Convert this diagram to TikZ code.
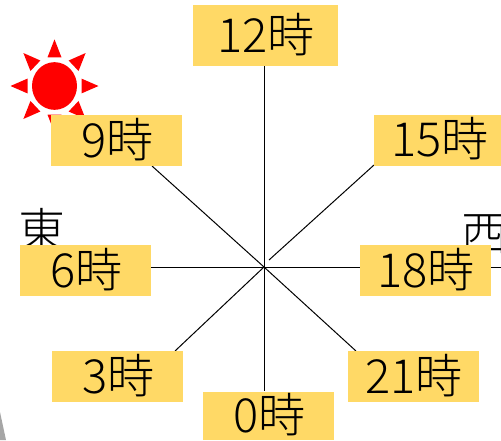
\documentclass[tikz,border=0pt]{standalone}
\usepackage{fontspec}
\setmainfont{Noto Sans CJK JP}[UprightFont=* Light,BoldFont=* Light]
\definecolor{boxc}{RGB}{255,217,102}
\newcommand{\hourtext}[1]{\hspace{1.5pt}\raisebox{6pt}{#1}}
\tikzset{
 hourbox/.style={fill=boxc,minimum width=131pt,minimum height=51pt,inner sep=0pt,font=\fontsize{47}{47}\selectfont,text=black},
 dirlabel/.style={inner sep=0pt,font=\fontsize{47}{47}\selectfont,text=black},
 ray/.style={fill=red,draw=none},
 spoke/.style={draw=black,line width=1pt}
}
\begin{document}
\begin{tikzpicture}[x=1pt,y=-1pt]
\useasboundingbox (0,0) rectangle (501,440);
\fill[gray!70] (0,412) -- (6,440) -- (0,440) -- cycle;
% sun
\begin{scope}[shift={(54.5,86)},yscale=1.06]
\fill[red] (0,0) circle (22.5);
\foreach \a in {0,45,...,315}{
 \begin{scope}[rotate=\a]
 \fill[ray] (27,-7) -- (44,0) -- (27,7) -- cycle;
 \end{scope}
}
\end{scope}
% direction labels
\node[dirlabel] (east) at (42.5,230) {東};
\node[dirlabel] (west) at (485,234) {西};
% centre
\coordinate (c) at (264,267);
% spokes
\coordinate (e1) at (264,65);
\coordinate (e2) at (374,165);
\coordinate (e2b) at (269,260);
\coordinate (e3) at (151,267);
\coordinate (e4) at (360,267);
\coordinate (e5) at (152,166);
\coordinate (e6) at (175,351);
\coordinate (e7) at (356,351);
\coordinate (e8) at (264,391);
\coordinate (e9) at (501,267);
\coordinate (e10) at (491,267);
\foreach \e in {e1,e3,e4,e5,e6,e7,e8}{\draw[spoke] (c) -- (\e);}
\draw[spoke] (e2b) -- (e2);
\draw[spoke] (e10) -- (e9);
% boxes
\node[hourbox,minimum width=145pt,minimum height=61pt] (h12) at (265.5,35.5) {\hourtext{12時}};
\node[hourbox] (h15) at (439.5,140) {\hourtext{15時}};
\node[hourbox] (h9) at (116.5,140.5) {\hourtext{9時}};
\node[hourbox] (h6) at (85.5,270.5) {\hourtext{6時}};
\node[hourbox] (h18) at (425.5,270.5) {\hourtext{18時}};
\node[hourbox] (h3) at (117.5,376.5) {\hourtext{3時}};
\node[hourbox] (h21) at (413.5,376.5) {\hourtext{21時}};
\node[hourbox,minimum width=131pt,minimum height=48pt] (h0) at (268.5,416) {\hourtext{0時}};
\end{tikzpicture}
\end{document}
